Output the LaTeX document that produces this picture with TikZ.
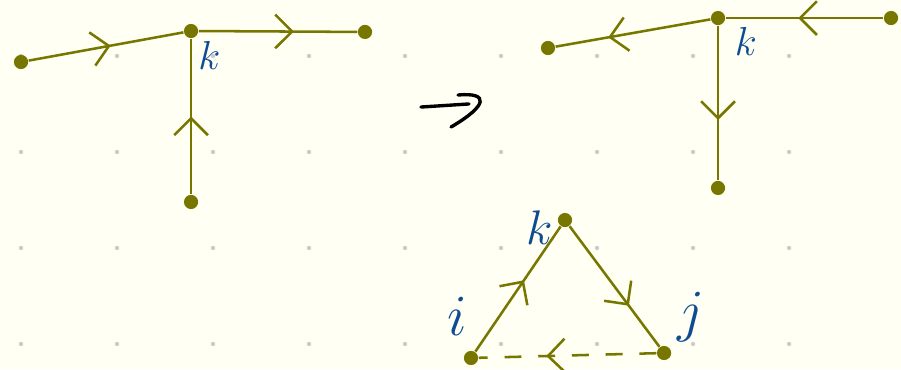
\documentclass[tikz,border=0pt]{standalone}
\definecolor{qvolive}{HTML}{777700}
\definecolor{qvblue}{HTML}{0E4C92}
\definecolor{qvpaper}{HTML}{FFFFF4}
\definecolor{qvgrid}{HTML}{CCCCCC}
\usepackage{tikz}
\usetikzlibrary{arrows.meta,decorations.markings}

\tikzset{
  dot/.style={circle, fill=qvolive, inner sep=0pt, minimum size=4.2pt},
  edge/.style={draw=qvolive, line width=0.75pt},
  midarrow/.style={postaction={decorate, decoration={markings,
      mark=at position #1 with {\arrow{Straight Barb[length=5pt, width=10pt, line width=0.75pt]}}}}},
  lbl/.style={text=qvblue, inner sep=0pt}
}

\begin{document}
\begin{tikzpicture}[x=1cm, y=-1cm]
  % paper
  \fill[qvpaper] (0,0) rectangle (9.385,3.844);
  \useasboundingbox (0,0) rectangle (9.385,3.844);
  % dot grid
  \foreach \i in {0,...,8}{
    \foreach \j in {0,...,3}{
      \fill[qvgrid] (0.219+\i, 0.583+\j) circle (0.65pt);
    }
  }

  % Tree before
  \node[dot] (a) at (0.219, 0.646) {};
  \node[dot] (b) at (1.990, 0.323) {};
  \node[dot] (c) at (3.802, 0.333) {};
  \node[dot] (d) at (1.990, 2.104) {};
  \draw[edge, midarrow=0.53] (a) -- (b);
  \draw[edge, midarrow=0.6] (b) -- (c);
  \draw[edge, midarrow=0.5] (d) -- (b);
  \node[lbl, font=\large] (kb) at (2.18, 0.58) {$k$};

  % hand-drawn arrow
  \coordinate (h1) at (4.385, 1.115);
  \coordinate (h2) at (4.885, 1.083);
  \coordinate (h3) at (4.771, 0.990);
  \coordinate (h4) at (4.698, 1.323);
  \draw[line width=1pt, line cap=round] (h1) -- (h2);
  \draw[line width=1pt, line cap=round] (h3) .. controls (5.10, 0.96) and (5.08, 1.10) .. (h4);

  % Tree after
  \node[dot] (e) at (5.708, 0.500) {};
  \node[dot] (f) at (7.479, 0.188) {};
  \node[dot] (g) at (9.281, 0.188) {};
  \node[dot] (h) at (7.479, 1.958) {};
  \draw[edge, midarrow=0.66] (f) -- (e);
  \draw[edge, midarrow=0.54] (g) -- (f);
  \draw[edge, midarrow=0.61] (f) -- (h);
  \node[lbl, font=\large] (ka) at (7.77, 0.43) {$k$};

  % Triangle
  \node[dot] (k) at (5.885, 2.292) {};
  \node[dot] (i) at (4.906, 3.729) {};
  \node[dot] (j) at (6.917, 3.677) {};
  \draw[edge, midarrow=0.57] (i) -- (k);
  \draw[edge, midarrow=0.66] (k) -- (j);
  \draw[edge, dash pattern=on 5pt off 5pt, midarrow=0.62] (j) -- (i);
  \node[lbl, font=\Large] (kt) at (5.62, 2.37) {$k$};
  \node[lbl, font=\LARGE] (il) at (4.76, 3.30) {$i$};
  \node[lbl, font=\LARGE] (jl) at (7.20, 3.30) {$j$};
\end{tikzpicture}
\end{document}
